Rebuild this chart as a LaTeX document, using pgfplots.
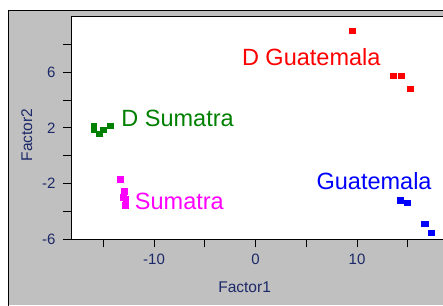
\documentclass[border=0pt]{standalone}
\usepackage{pgfplots}
\pgfplotsset{compat=1.18}
\usepackage{fontspec}
\setmainfont{Liberation Sans}
\definecolor{navy}{RGB}{28,40,104}
\definecolor{bggray}{RGB}{192,192,192}
\definecolor{dgreen}{RGB}{0,128,0}
\definecolor{mred}{RGB}{255,0,0}
\definecolor{mblue}{RGB}{0,0,255}
\definecolor{mmag}{RGB}{255,0,255}
\begin{document}
\begin{tikzpicture}[x=1pt,y=1pt]
\path[use as bounding box] (0,0) rectangle (443,305);
\clip (0,0) rectangle (443,305);
\fill[bggray] (8,0) rectangle (460,294);
\draw[black,line width=1pt] (8,-5) -- (8,294) -- (460,294);
\begin{axis}[
  scale only axis,
  width=387.5pt, height=222.8pt,
  at={(71pt,65.7pt)}, anchor=south west,
  xmin=-18.18, xmax=20, ymin=-6, ymax=10,
  axis background/.style={fill=white},
  axis line style={black,line width=1pt},
  xtick={-10,0,10}, xticklabels={-10,0,10},
  minor xtick={-15,-5,5,15},
  ytick={-6,-2,2,6}, yticklabels={-6,-2,2,6},
  minor ytick={-4,0,4,8},
  tick align=outside,
  xtick pos=bottom, ytick pos=left,
  major tick length=8pt, minor tick length=8pt,
  tick style={black,line width=0.9pt},
  ticklabel style={font=\fontsize{15}{18}\selectfont, text=navy},
  yticklabel style={xshift=-4pt},
  xticklabel style={yshift=-3pt},
  label style={font=\fontsize{15.5}{18}\selectfont, text=navy},
  xlabel={Factor1}, ylabel={Factor2},
  xlabel style={at={(axis description cs:0.448,0)}, anchor=base, yshift=-53.4pt},
  ylabel style={at={(axis description cs:0,0.468)}, anchor=center, yshift=44.3pt},
  clip=false,
]
\addplot[only marks, mark=square*, mark size=2.7pt, color=mred] coordinates {
(9.54,8.96) (13.58,5.74) (14.36,5.74) (15.25,4.81)};
\addplot[only marks, mark=square*, mark size=2.7pt, color=dgreen] coordinates {
(-15.94,2.11) (-15.94,1.90) (-15.39,1.59) (-15.0,1.86) (-14.3,2.14)};
\addplot[only marks, mark=square*, mark size=2.7pt, color=mmag] coordinates {
(-13.32,-1.69) (-12.93,-2.54) (-13.02,-2.97) (-12.79,-3.09) (-12.83,-3.54)};
\addplot[only marks, mark=square*, mark size=2.7pt, color=mblue] coordinates {
(14.27,-3.19) (14.93,-3.38) (16.63,-4.86) (16.77,-4.88) (17.32,-5.54)};
\node[anchor=base west, inner sep=0pt, text=mred, font=\fontsize{23.5}{26}\selectfont] at (axis cs:-1.35,6.5) {D Guatemala};
\node[anchor=base west, inner sep=0pt, text=dgreen, font=\fontsize{23.5}{26}\selectfont] at (axis cs:-13.23,2.07) {D Sumatra};
\node[anchor=base west, inner sep=0pt, text=mblue, font=\fontsize{23.5}{26}\selectfont] at (axis cs:6.0,-2.43) {Guatemala};
\node[anchor=base west, inner sep=0pt, text=mmag, font=\fontsize{23.5}{26}\selectfont] at (axis cs:-11.9,-3.86) {Sumatra};
\end{axis}
\end{tikzpicture}
\end{document}
